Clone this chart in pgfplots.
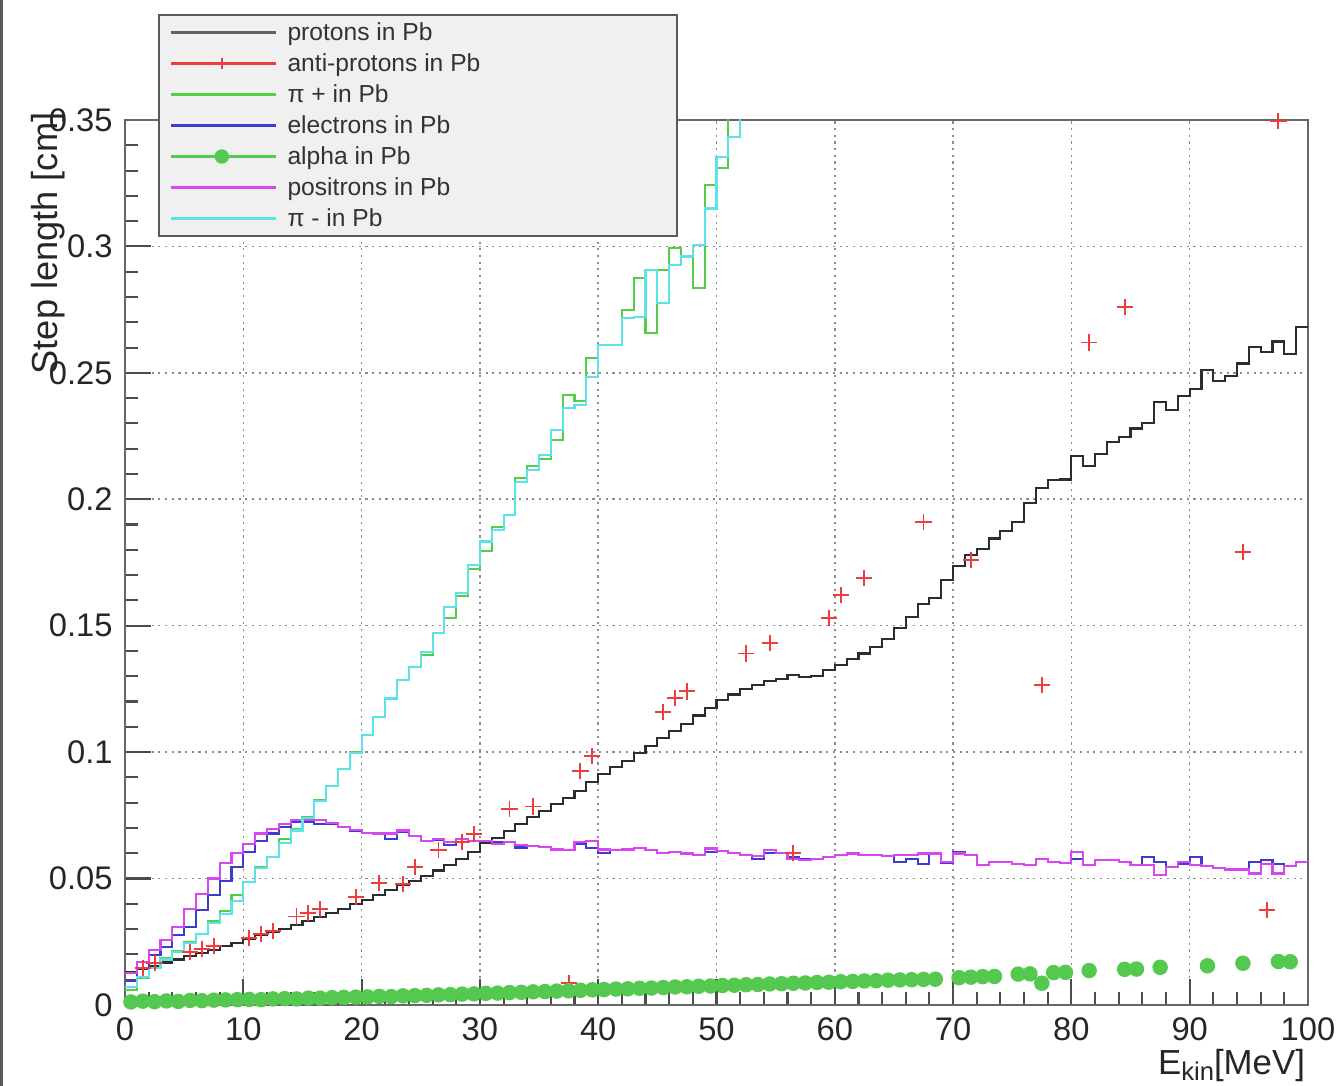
\documentclass[border=0pt]{standalone}
\usepackage{pgfplots}
\pgfplotsset{compat=1.18}
\usepackage{fontspec}
\setmainfont{Liberation Sans}
\definecolor{protcol}{RGB}{45,45,45}
\definecolor{apcol}{RGB}{236,60,60}
\definecolor{pipcol}{RGB}{85,205,70}
\definecolor{elcol}{RGB}{60,60,205}
\definecolor{alcol}{RGB}{85,200,80}
\definecolor{poscol}{RGB}{215,70,240}
\definecolor{pimcol}{RGB}{90,228,232}
\begin{document}
\begin{tikzpicture}
\useasboundingbox (0,0) rectangle (134.1mm,108.6mm);
\draw[black!65, line width=0.3mm] (0.15mm,0) -- (0.15mm,108.6mm);
\begin{axis}[
  at={(12.5mm,8.1mm)}, anchor=south west,
  scale only axis, width=118.3mm, height=88.5mm,
  xmin=0, xmax=100, ymin=0, ymax=0.35,
  clip=true,
  xtick={0,10,20,30,40,50,60,70,80,90,100},
  xticklabels={0,10,20,30,40,50,60,70,80,90,100},
  ytick={0,0.05,0.1,0.15,0.2,0.25,0.3,0.35},
  yticklabels={0,0.05,0.1,0.15,0.2,0.25,0.3,0.35},
  minor x tick num=4, minor y tick num=4,
  xtick pos=left, ytick pos=left,
  tick align=inside,
  major tick length=2.6mm, minor tick length=1.3mm,
  tick style={black!70, line width=0.6pt},
  axis line style={black!60, line width=0.6pt},
  grid=major,
  major grid style={black!45, line width=0.45pt, dash pattern=on 0.6pt off 1.3pt},
  tick label style={font=\fontsize{9.3}{11}\selectfont, black!85},
  xlabel={E\raisebox{-0.35ex}{\fontsize{7.3}{8}\selectfont kin}[MeV]},
  xlabel style={at={(axis description cs:0.998,-0.0785)}, anchor=base east, inner sep=0pt, font=\fontsize{9.9}{12}\selectfont, black!85},
  ylabel={Step length [cm]},
  ylabel style={at={(axis description cs:-0.057,1.009)}, anchor=base east, inner sep=0pt, font=\fontsize{10.3}{12}\selectfont, black!85},
  legend style={at={(axis description cs:0.0279,1.1198)}, anchor=north west,
    fill=black!6, draw=black!65, line width=0.6pt,
    inner xsep=1mm, inner ysep=0.3mm, row sep=0.2mm,
    font=\fontsize{7}{8}\selectfont,
    nodes={inner xsep=1mm, inner ysep=0pt, text height=2.2mm, text depth=0.7mm, text=black!80}},
  legend cell align=left,
  legend image code/.code={\path (0mm,0mm) -- (10.5mm,0mm); \draw[mark repeat=2,mark phase=2,#1] plot coordinates {(0.6mm,0mm) (5.1mm,0mm) (9.6mm,0mm)};},
]
\addlegendimage{protcol!75, line width=0.9pt}
\addlegendimage{apcol, line width=0.7pt, mark=|, mark size=1.6pt, mark options={line width=0.6pt}}
\addlegendimage{pipcol, line width=0.8pt}
\addlegendimage{elcol, line width=0.8pt}
\addlegendimage{alcol, line width=0.7pt, mark=*, mark size=1.7pt}
\addlegendimage{poscol, line width=0.8pt}
\addlegendimage{pimcol, line width=1.0pt}
\legend{\makebox[36.9mm][l]{protons in Pb}, anti-protons in Pb, π + in Pb, electrons in Pb, alpha in Pb, positrons in Pb, π - in Pb}

% protons in Pb
\addplot[const plot, color=protcol, line width=0.6pt, forget plot] coordinates {
(0,0.013) (1,0.0143) (2,0.0155) (3,0.0168) (4,0.018) (5,0.0193) (6,0.0205) (7,0.0218) (8,0.0232) (9,0.0246)
(10,0.026) (11,0.0275) (12,0.029) (13,0.0302) (14,0.0317) (15,0.0332) (16,0.0347) (17,0.0363) (18,0.038) (19,0.0398)
(20,0.0415) (21,0.0435) (22,0.0455) (23,0.0474) (24,0.049) (25,0.051) (26,0.0532) (27,0.0555) (28,0.0578) (29,0.0605)
(30,0.064) (31,0.0662) (32,0.0688) (33,0.0715) (34,0.0742) (35,0.0768) (36,0.0795) (37,0.082) (38,0.0848) (39,0.0882)
(40,0.0915) (41,0.094) (42,0.0965) (43,0.0995) (44,0.1025) (45,0.1055) (46,0.1085) (47,0.111) (48,0.1145) (49,0.1175)
(50,0.1205) (51,0.1228) (52,0.1248) (53,0.1265) (54,0.128) (55,0.129) (56,0.1305) (57,0.1298) (58,0.1302) (59,0.1325)
(60,0.1345) (61,0.1368) (62,0.139) (63,0.1415) (64,0.1448) (65,0.149) (66,0.1535) (67,0.1585) (68,0.161) (69,0.168)
(70,0.1735) (71,0.178) (72,0.1802) (73,0.1845) (74,0.1875) (75,0.191) (76,0.1985) (77,0.2045) (78,0.2075) (79,0.2078)
(80,0.217) (81,0.213) (82,0.218) (83,0.2225) (84,0.2245) (85,0.228) (86,0.23) (87,0.2385) (88,0.2352) (89,0.241)
(90,0.2436) (91,0.251) (92,0.2468) (93,0.2488) (94,0.2537) (95,0.2603) (96,0.2582) (97,0.2624) (98,0.2576) (99,0.268)
(100,0.268)};

% anti-protons in Pb
\addplot[only marks, mark=+, mark size=2.3pt, color=apcol, mark options={line width=0.55pt}, forget plot] coordinates {
(1.5,0.0145) (2.5,0.0165) (5.5,0.021) (6.5,0.022) (7.5,0.0232) (10.5,0.0265) (11.5,0.028) (12.5,0.0293)
(14.5,0.035) (15.5,0.0365) (16.5,0.0378) (19.5,0.0427) (21.5,0.0482) (23.5,0.0478) (24.5,0.0545) (26.5,0.0612)
(28.5,0.0645) (29.5,0.0675) (32.5,0.0776) (34.5,0.0785) (37.5,0.0087) (38.5,0.0925) (39.5,0.0985) (45.5,0.116)
(46.5,0.1214) (47.5,0.124) (52.5,0.139) (54.5,0.143) (56.5,0.060) (59.5,0.153) (60.5,0.162) (62.5,0.169)
(67.5,0.191) (71.5,0.176) (77.5,0.1265) (81.5,0.262) (84.5,0.276) (94.5,0.179) (96.5,0.0376) (97.5,0.3495)};

% pi+ in Pb
\addplot[const plot, color=pipcol, line width=0.6pt, forget plot] coordinates {
(0,0.006) (1,0.0105) (2,0.0145) (3,0.0185) (4,0.0215) (5,0.025) (6,0.028) (7,0.033) (8,0.037) (9,0.0435)
(10,0.0485) (11,0.0545) (12,0.0585) (13,0.0655) (14,0.0695) (15,0.0745) (16,0.081) (17,0.0865) (18,0.0935) (19,0.1)
(20,0.1067) (21,0.114) (22,0.1212) (23,0.1285) (24,0.1338) (25,0.1385) (26,0.147) (27,0.153) (28,0.1618) (29,0.1725)
(30,0.1794) (31,0.1889) (32,0.1938) (33,0.2084) (34,0.213) (35,0.216) (36,0.2236) (37,0.2412) (38,0.2389) (39,0.2557)
(40,0.261) (41,0.261) (42,0.2749) (43,0.2874) (44,0.2656) (45,0.2907) (46,0.2993) (47,0.296) (48,0.2834) (49,0.3243)
(50,0.3309) (51,0.36) (52,0.36)};

% electrons in Pb
\addplot[const plot, color=elcol, line width=0.6pt, forget plot] coordinates {
(0,0.0095) (1,0.0145) (2,0.0197) (3,0.023) (4,0.0276) (5,0.031) (6,0.0375) (7,0.0434) (8,0.049) (9,0.0546)
(10,0.0605) (11,0.065) (12,0.0678) (13,0.0704) (14,0.0724) (15,0.0724) (16,0.0717) (17,0.0715) (18,0.0704) (19,0.069)
(20,0.068) (21,0.0675) (22,0.0658) (23,0.0685) (24,0.067) (25,0.065) (26,0.0652) (27,0.0632) (28,0.0658) (29,0.065)
(30,0.065) (31,0.0645) (32,0.0645) (33,0.0623) (34,0.0628) (35,0.0625) (36,0.0615) (37,0.0612) (38,0.0636) (39,0.062)
(40,0.060) (41,0.0612) (42,0.0615) (43,0.062) (44,0.0612) (45,0.060) (46,0.0605) (47,0.0599) (48,0.0592) (49,0.0605)
(50,0.061) (51,0.060) (52,0.0592) (53,0.0579) (54,0.060) (55,0.060) (56,0.0586) (57,0.0579) (58,0.0579) (59,0.0586)
(60,0.0592) (61,0.0599) (62,0.0592) (63,0.0592) (64,0.0588) (65,0.0566) (66,0.0579) (67,0.0559) (68,0.0599) (69,0.056)
(70,0.0605) (71,0.0592) (72,0.0553) (73,0.0566) (74,0.0566) (75,0.0559) (76,0.0553) (77,0.0579) (78,0.0566) (79,0.0562)
(80,0.0579) (81,0.0553) (82,0.0572) (83,0.0572) (84,0.0566) (85,0.0553) (86,0.0586) (87,0.0566) (88,0.0546) (89,0.0559)
(90,0.0586) (91,0.0549) (92,0.0543) (93,0.0536) (94,0.0536) (95,0.0566) (96,0.0575) (97,0.0559) (98,0.0549) (99,0.0566)
(100,0.0566)};

% alpha in Pb
\addplot[only marks, mark=*, mark size=2.0pt, color=alcol, forget plot] coordinates {
(0.5,0.0012) (1.5,0.0015) (2.5,0.0013) (3.5,0.0016) (4.5,0.0014) (5.5,0.0018) (6.5,0.0017) (7.5,0.0019) (8.5,0.002) (9.5,0.0021)
(10.5,0.0022) (11.5,0.0021) (12.5,0.0024) (13.5,0.0025) (14.5,0.0024) (15.5,0.0027) (16.5,0.0027) (17.5,0.0029) (18.5,0.003) (19.5,0.0031)
(20.5,0.0032) (21.5,0.0034) (22.5,0.0033) (23.5,0.0036) (24.5,0.0037) (25.5,0.0038) (26.5,0.004) (27.5,0.0041) (28.5,0.0043) (29.5,0.0044)
(30.5,0.0046) (31.5,0.0047) (32.5,0.0049) (33.5,0.005) (34.5,0.0052) (35.5,0.0053) (36.5,0.0055) (37.5,0.0056) (38.5,0.0058) (39.5,0.006)
(40.5,0.0061) (41.5,0.0063) (42.5,0.0064) (43.5,0.0066) (44.5,0.0067) (45.5,0.0069) (46.5,0.0071) (47.5,0.0072) (48.5,0.0074) (49.5,0.0075)
(50.5,0.0077) (51.5,0.0078) (52.5,0.008) (53.5,0.0081) (54.5,0.0083) (55.5,0.0084) (56.5,0.0086) (57.5,0.0087) (58.5,0.0089) (59.5,0.009)
(60.5,0.0092) (61.5,0.0093) (62.5,0.0095) (63.5,0.0096) (64.5,0.0098) (65.5,0.0099) (66.5,0.01) (67.5,0.0101) (68.5,0.0102)
(70.5,0.0108) (71.5,0.011) (72.5,0.0112) (73.5,0.0113) (75.5,0.0122) (76.5,0.0123) (77.5,0.0086) (78.5,0.0128) (79.5,0.0129)
(81.5,0.0136) (84.5,0.0141) (85.5,0.0142) (87.5,0.0149) (91.5,0.0155) (94.5,0.0165) (97.5,0.0172) (98.5,0.0171)};

% positrons in Pb
\addplot[const plot, color=poscol, line width=0.6pt, forget plot] coordinates {
(0,0.0125) (1,0.017) (2,0.0217) (3,0.0257) (4,0.031) (5,0.038) (6,0.044) (7,0.050) (8,0.056) (9,0.060)
(10,0.0638) (11,0.0678) (12,0.0697) (13,0.0717) (14,0.0733) (15,0.073) (16,0.073) (17,0.0718) (18,0.0704) (19,0.0693)
(20,0.068) (21,0.0678) (22,0.0678) (23,0.069) (24,0.067) (25,0.065) (26,0.0658) (27,0.0645) (28,0.0658) (29,0.065)
(30,0.065) (31,0.0638) (32,0.0645) (33,0.0632) (34,0.0628) (35,0.0625) (36,0.0615) (37,0.0612) (38,0.0645) (39,0.065)
(40,0.0615) (41,0.0612) (42,0.0615) (43,0.062) (44,0.0612) (45,0.060) (46,0.0605) (47,0.0599) (48,0.0592) (49,0.0619)
(50,0.061) (51,0.060) (52,0.0592) (53,0.0588) (54,0.0612) (55,0.060) (56,0.0578) (57,0.0572) (58,0.0579) (59,0.0586)
(60,0.0592) (61,0.0599) (62,0.0592) (63,0.0592) (64,0.0588) (65,0.0592) (66,0.0592) (67,0.0599) (68,0.0599) (69,0.0566)
(70,0.0599) (71,0.0592) (72,0.0553) (73,0.0566) (74,0.0566) (75,0.0559) (76,0.0553) (77,0.0579) (78,0.0566) (79,0.0562)
(80,0.0605) (81,0.0553) (82,0.0572) (83,0.0572) (84,0.0566) (85,0.0553) (86,0.0553) (87,0.0513) (88,0.0546) (89,0.0566)
(90,0.0553) (91,0.0549) (92,0.0543) (93,0.0536) (94,0.0536) (95,0.052) (96,0.0559) (97,0.052) (98,0.0549) (99,0.0566)
(100,0.0566)};

% pi- in Pb
\addplot[const plot, color=pimcol, line width=0.6pt, forget plot] coordinates {
(0,0.007) (1,0.011) (2,0.0145) (3,0.018) (4,0.021) (5,0.0245) (6,0.028) (7,0.0325) (8,0.036) (9,0.041)
(10,0.0485) (11,0.054) (12,0.0585) (13,0.064) (14,0.069) (15,0.074) (16,0.0805) (17,0.0865) (18,0.0935) (19,0.0995)
(20,0.1067) (21,0.114) (22,0.1212) (23,0.1285) (24,0.1338) (25,0.1397) (26,0.147) (27,0.1575) (28,0.163) (29,0.174)
(30,0.1833) (31,0.188) (32,0.1938) (33,0.207) (34,0.2117) (35,0.2176) (36,0.2275) (37,0.236) (38,0.2373) (39,0.2485)
(40,0.261) (41,0.261) (42,0.2716) (43,0.2722) (44,0.2907) (45,0.2775) (46,0.2927) (47,0.296) (48,0.3006) (49,0.315)
(50,0.3355) (51,0.3434) (52,0.36) (53,0.36)};
\end{axis}
\end{tikzpicture}
\end{document}
